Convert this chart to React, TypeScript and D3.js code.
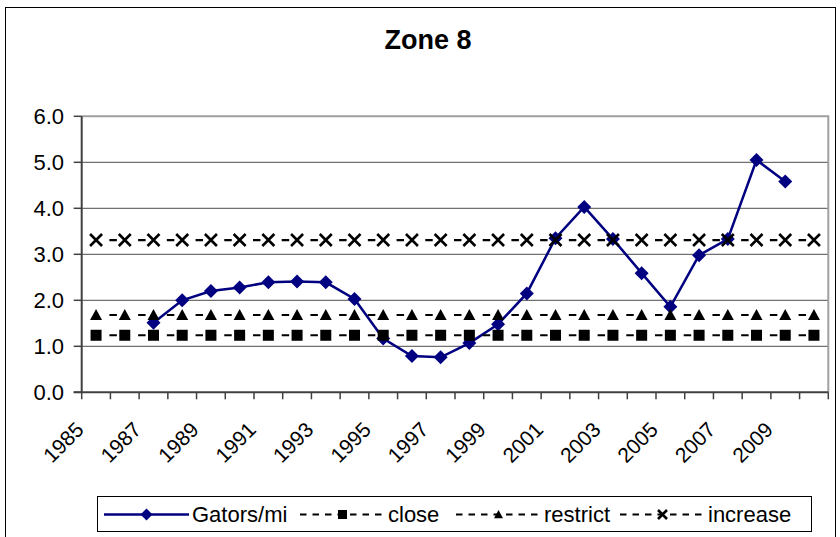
import { useEffect, useRef } from "react";
import * as d3 from "d3";

// categories
const years = [
  "1985", "1986", "1987", "1988", "1989", "1990", "1991", "1992", "1993",
  "1994", "1995", "1996", "1997", "1998", "1999", "2000", "2001", "2002",
  "2003", "2004", "2005", "2006", "2007", "2008", "2009", "2010",
];

// shown labels on the x axis
const xTickLabels = [
  "1985", "1987", "1989", "1991", "1993", "1995", "1997",
  "1999", "2001", "2003", "2005", "2007", "2009",
];

const yTicks = [0, 1, 2, 3, 4, 5, 6];

// series values
const gatorsPerMi = [
  null, null, 1.51, 2.0, 2.2, 2.28, 2.39, 2.41, 2.39, 2.03, 1.17, 0.79, 0.76,
  1.07, 1.48, 2.15, 3.35, 4.03, 3.33, 2.59, 1.86, 2.98, 3.33, 5.05, 4.58, null,
];
const close = [
  1.24, 1.24, 1.24, 1.24, 1.24, 1.24, 1.24, 1.24, 1.24, 1.24, 1.24, 1.24, 1.24,
  1.24, 1.24, 1.24, 1.24, 1.24, 1.24, 1.24, 1.24, 1.24, 1.24, 1.24, 1.24, 1.24,
];
const restrict = [
  1.68, 1.68, 1.68, 1.68, 1.68, 1.68, 1.68, 1.68, 1.68, 1.68, 1.68, 1.68, 1.68,
  1.68, 1.68, 1.68, 1.68, 1.68, 1.68, 1.68, 1.68, 1.68, 1.68, 1.68, 1.68, 1.68,
];
const increase = [
  3.31, 3.31, 3.31, 3.31, 3.31, 3.31, 3.31, 3.31, 3.31, 3.31, 3.31, 3.31, 3.31,
  3.31, 3.31, 3.31, 3.31, 3.31, 3.31, 3.31, 3.31, 3.31, 3.31, 3.31, 3.31, 3.31,
];

const legendNames = ["Gators/mi", "close", "restrict", "increase"];

const FONT = "Arial, 'Liberation Sans', sans-serif";

type Marker = "diamond" | "square" | "triangle" | "cross";

function drawMarker(g: any, kind: Marker, x: number, y: number, s: number, color: string) {
  if (kind === "diamond") {
    g.append("path")
      .attr("d", `M${x},${y - s} L${x + s},${y} L${x},${y + s} L${x - s},${y} Z`)
      .attr("fill", color);
  } else if (kind === "square") {
    g.append("rect")
      .attr("x", x - s)
      .attr("y", y - s)
      .attr("width", 2 * s)
      .attr("height", 2 * s)
      .attr("fill", color);
  } else if (kind === "triangle") {
    g.append("path")
      .attr("d", `M${x},${y - s} L${x + s},${y + s * 0.85} L${x - s},${y + s * 0.85} Z`)
      .attr("fill", color);
  } else {
    g.append("path")
      .attr("d", `M${x - s},${y - s} L${x + s},${y + s} M${x + s},${y - s} L${x - s},${y + s}`)
      .attr("stroke", color)
      .attr("stroke-width", 2.6)
      .attr("fill", "none");
  }
}

export default function App() {
  const svgRef = useRef<SVGSVGElement>(null);

  useEffect(() => {
    const svg = d3.select(svgRef.current);
    svg.selectAll("*").remove();

    const plot = { left: 81.7, right: 828.3, top: 116.3, bottom: 392.3 };

    // outer chart border
    svg
      .append("rect")
      .attr("x", 5.5)
      .attr("y", 7.5)
      .attr("width", 830)
      .attr("height", 545)
      .attr("fill", "white")
      .attr("stroke", "black")
      .attr("stroke-width", 1);

    // title
    svg
      .append("text")
      .attr("x", 428)
      .attr("y", 49)
      .attr("text-anchor", "middle")
      .attr("font-family", FONT)
      .attr("font-weight", "bold")
      .attr("font-size", 27)
      .text("Zone 8");

    const xScale = d3
      .scaleBand()
      .domain(years)
      .range([plot.left, plot.right])
      .padding(0);
    const bw = xScale.bandwidth();
    const cx = (yr: string) => (xScale(yr) as number) + bw / 2;

    const yScale = d3.scaleLinear().domain([0, 6]).range([plot.bottom, plot.top]);

    // gridlines
    svg
      .append("g")
      .selectAll("line")
      .data(yTicks.filter((t) => t > 0 && t < 6))
      .enter()
      .append("line")
      .attr("x1", plot.left)
      .attr("x2", plot.right)
      .attr("y1", (d) => yScale(d))
      .attr("y2", (d) => yScale(d))
      .attr("stroke", "#707070")
      .attr("stroke-width", 1.2);

    // plot area border (top / right)
    svg
      .append("path")
      .attr(
        "d",
        `M${plot.left},${yScale(6)} L${plot.right},${yScale(6)} L${plot.right},${plot.bottom}`
      )
      .attr("fill", "none")
      .attr("stroke", "#a0a0a0")
      .attr("stroke-width", 2);

    // y axis
    const yAxis = svg.append("g");
    yAxis
      .append("line")
      .attr("x1", plot.left)
      .attr("x2", plot.left)
      .attr("y1", plot.top)
      .attr("y2", plot.bottom)
      .attr("stroke", "#404040")
      .attr("stroke-width", 2);
    yTicks.forEach((t) => {
      yAxis
        .append("line")
        .attr("x1", plot.left - 8)
        .attr("x2", plot.left)
        .attr("y1", yScale(t))
        .attr("y2", yScale(t))
        .attr("stroke", "#404040")
        .attr("stroke-width", 1.5);
      yAxis
        .append("text")
        .attr("x", 64)
        .attr("y", yScale(t) + 8)
        .attr("text-anchor", "end")
        .attr("font-family", FONT)
        .attr("font-size", 22)
        .text(d3.format(".1f")(t));
    });

    // x axis
    const xAxis = svg.append("g");
    xAxis
      .append("line")
      .attr("x1", plot.left - 8)
      .attr("x2", plot.right)
      .attr("y1", plot.bottom)
      .attr("y2", plot.bottom)
      .attr("stroke", "#404040")
      .attr("stroke-width", 2);
    [...years, "end"].forEach((yr, i) => {
      const x = plot.left + i * bw;
      xAxis
        .append("line")
        .attr("x1", x)
        .attr("x2", x)
        .attr("y1", plot.bottom)
        .attr("y2", plot.bottom + 7)
        .attr("stroke", "#404040")
        .attr("stroke-width", 1.5);
    });
    xTickLabels.forEach((lab) => {
      xAxis
        .append("text")
        .attr("transform", `translate(${cx(lab) - 11},431) rotate(-45)`)
        .attr("text-anchor", "end")
        .attr("font-family", FONT)
        .attr("font-size", 21)
        .text(lab);
    });

    // Gators/mi line
    const gatorPts = years
      .map((yr, i) => ({ yr, v: gatorsPerMi[i] }))
      .filter((d) => d.v !== null) as { yr: string; v: number }[];
    const line = d3
      .line<{ yr: string; v: number }>()
      .x((d) => cx(d.yr))
      .y((d) => yScale(d.v));
    const navy = "#000080";
    svg
      .append("path")
      .datum(gatorPts)
      .attr("d", line)
      .attr("fill", "none")
      .attr("stroke", navy)
      .attr("stroke-width", 2.5);
    const gm = svg.append("g");
    gatorPts.forEach((d) => drawMarker(gm, "diamond", cx(d.yr), yScale(d.v), 7, navy));

    // threshold series
    const refSeries: { values: number[]; marker: Marker; size: number }[] = [
      { values: close, marker: "square", size: 5.5 },
      { values: restrict, marker: "triangle", size: 6 },
      { values: increase, marker: "cross", size: 6 },
    ];
    refSeries.forEach((s) => {
      const pts = years.map((yr, i) => ({ yr, v: s.values[i] }));
      svg
        .append("path")
        .datum(pts)
        .attr("d", line)
        .attr("fill", "none")
        .attr("stroke", "black")
        .attr("stroke-width", 2.2)
        .attr("stroke-dasharray", `0 ${bw * 0.465} ${bw * 0.26} ${bw * 0.275}`);
      const g = svg.append("g");
      pts.forEach((d) => drawMarker(g, s.marker, cx(d.yr), yScale(d.v), s.size, "black"));
    });

    // legend
    const lg = svg.append("g");
    lg.append("rect")
      .attr("x", 97.5)
      .attr("y", 496.5)
      .attr("width", 714)
      .attr("height", 35)
      .attr("fill", "white")
      .attr("stroke", "black")
      .attr("stroke-width", 1);
    const legendStarts = [104, 300, 456, 620];
    const legendMarkers: Marker[] = ["diamond", "square", "triangle", "cross"];
    const ly = 514.5;
    legendNames.forEach((name, i) => {
      const x0 = legendStarts[i];
      const color = i === 0 ? navy : "black";
      lg.append("line")
        .attr("x1", x0)
        .attr("x2", x0 + 85)
        .attr("y1", ly)
        .attr("y2", ly)
        .attr("stroke", color)
        .attr("stroke-width", i === 0 ? 2.5 : 2)
        .attr("stroke-dasharray", i === 0 ? null : "6.5 6");
      drawMarker(lg, legendMarkers[i], x0 + 42.5, ly, i === 0 ? 6 : 4.5, color);
      lg.append("text")
        .attr("x", x0 + 88)
        .attr("y", 522)
        .attr("font-family", FONT)
        .attr("font-size", 22)
        .text(name);
    });
  }, []);

  return (
    <svg
      ref={svgRef}
      width={840}
      height={537}
      style={{ position: "absolute", left: 0, top: 0, background: "white" }}
    />
  );
}
